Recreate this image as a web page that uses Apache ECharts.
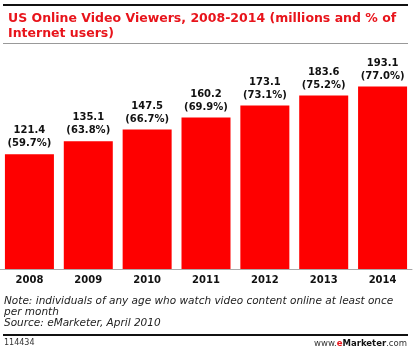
<!DOCTYPE html>
<html><head><meta charset="utf-8">
<script src="https://cdn.jsdelivr.net/npm/echarts@6/dist/echarts.min.js"></script>
<style>html,body{margin:0;padding:0;background:#fff;}#c{width:415px;height:358px;}</style>
</head><body><div id="c"></div>
<script>
var years = ['2008','2009','2010','2011','2012','2013','2014'];
var viewers = [121.4, 135.1, 147.5, 160.2, 173.1, 183.6, 193.1];
var pctUsers = ['59.7%','63.8%','66.7%','69.9%','73.1%','75.2%','77.0%'];
var titleText = 'US Online Video Viewers, 2008-2014 (millions and % of\nInternet users)';
var noteText = 'Note: individuals of any age who watch video content online at least once\nper month\nSource: eMarketer, April 2010';
var FF = 'DejaVu Sans, Verdana, sans-serif';

var chart = echarts.init(document.getElementById('c'), null, {renderer:'canvas'});
chart.setOption({
  animation:false,
  backgroundColor:'#fff',
  title:{text:titleText,left:3,top:6,itemGap:0,
    textStyle:{color:'#e8141b',fontFamily:FF,fontWeight:'bold',fontSize:12.5,lineHeight:15}},
  grid:{left:-1,right:3,top:80,bottom:89,containLabel:false},
  xAxis:{type:'category',data:years,
    axisLine:{lineStyle:{color:'#aaa',width:1}},axisTick:{show:false},
    axisLabel:{color:'#111',fontWeight:'bold',fontSize:10,fontFamily:FF,margin:6}},
  yAxis:{type:'value',min:0,max:200,show:false,splitLine:{show:false}},
  series:[{type:'bar',data:viewers,barWidth:49,itemStyle:{color:'#fe0000'},
    label:{show:true,position:'top',distance:4,color:'#111',fontWeight:'bold',fontSize:10,lineHeight:13,
      fontFamily:FF,
      formatter:function(p){return p.value.toFixed(1)+'\n('+pctUsers[p.dataIndex]+')';}}}],
  graphic:[
    {type:'rect',shape:{x:3,y:4,width:405,height:2},style:{fill:'#111'}},
    {type:'rect',shape:{x:3,y:43,width:405,height:1},style:{fill:'#999'}},
    {type:'text',left:4,top:296,style:{text:noteText,fill:'#222',fontStyle:'italic',fontSize:10.5,lineHeight:11,
      fontFamily:FF}},
    {type:'rect',shape:{x:3,y:334,width:405,height:2},style:{fill:'#111'}},
    {type:'text',left:4,top:339,style:{text:'114434',fill:'#333',fontSize:8,fontFamily:FF}},
    {type:'text',right:8,top:339,style:{rich:{
        a:{fill:'#333',fontSize:8.5,fontFamily:FF},
        e:{fill:'#e8141b',fontSize:8.5,fontWeight:'bold',fontFamily:FF},
        m:{fill:'#111',fontSize:8.5,fontWeight:'bold',fontFamily:FF}},
      text:'{a|www.}{e|e}{m|Marketer}{a|.com}'}}
  ]
});
</script></body></html>
